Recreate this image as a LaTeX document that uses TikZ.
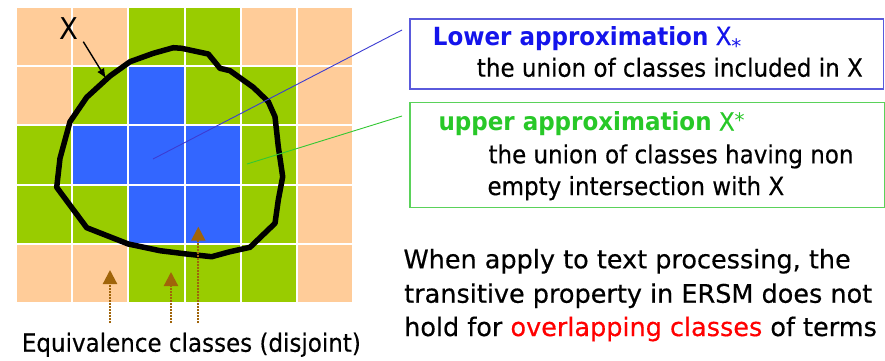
\documentclass[tikz,border=0pt]{standalone}
\usepackage{fontspec}
\usetikzlibrary{arrows.meta}
\newfontfamily\tah[FakeStretch=0.92, UprightFeatures={FakeBold=0.35}]{DejaVu Sans}
\newfontfamily\verd[UprightFeatures={FakeBold=0.45}]{DejaVu Sans}
\newfontfamily\starfont{DejaVu Sans}
\newfontfamily\labfont[FakeStretch=0.92]{DejaVu Sans}
\definecolor{peach}{RGB}{255,204,153}
\definecolor{lime}{RGB}{153,204,0}
\definecolor{cellblue}{RGB}{51,102,255}
\definecolor{lowblue}{RGB}{20,20,235}
\definecolor{upgreen}{RGB}{40,200,40}
\definecolor{lowedge}{RGB}{90,90,220}
\definecolor{upedge}{RGB}{90,210,90}
\definecolor{ochre}{RGB}{160,100,10}
\definecolor{pointblue}{RGB}{60,60,210}
\definecolor{pointgreen}{RGB}{50,200,50}
\begin{document}
\begin{tikzpicture}[x=1pt,y=-1pt,
  txt/.style={inner sep=0pt, anchor=base west, font=\tah\fontsize{25}{25}\selectfont},
  bigtxt/.style={inner sep=0pt, anchor=base west, font=\verd\fontsize{25.5}{25.5}\selectfont},
  boxframe/.style={draw, line width=1.2pt, inner sep=0pt, anchor=north west},
  classarrow/.style={draw=ochre, line width=2.2pt, dash pattern=on 1.6pt off 1.4pt,
     -{Triangle[length=14pt,width=14pt,fill=ochre]}},
  setline/.style={line width=5.5pt, line join=round, line cap=round}]
\useasboundingbox (0,0) rectangle (885,360);
\fill[white] (0,0) rectangle (885,360);
% grid of equivalence classes
\foreach \c/\r/\k in {0/0/peach,1/0/peach,2/0/lime,3/0/lime,4/0/peach,5/0/peach,
  0/1/peach,1/1/lime,2/1/cellblue,3/1/lime,4/1/lime,5/1/peach,
  0/2/lime,1/2/cellblue,2/2/cellblue,3/2/cellblue,4/2/lime,5/2/peach,
  0/3/lime,1/3/lime,2/3/cellblue,3/3/cellblue,4/3/lime,5/3/peach,
  0/4/peach,1/4/peach,2/4/lime,3/4/lime,4/4/lime,5/4/peach}
  \fill[\k] ({16+56.2*\c+1},{6.7+59.3*\r+1}) rectangle ({16+56.2*(\c+1)-1},{6.7+59.3*(\r+1)-1});
% the set X
\draw[setline] (173.3,47.7) -- (181.7,48.3) -- (208.3,54) -- (220,68.3) -- (230,70.7)
  -- (253.3,87.3) -- (268.3,101.7) -- (275,116.7) -- (278.3,146.7) -- (282.7,176.7)
  -- (278.3,200) -- (275,223.3) -- (250,247.3) -- (230,251.7) -- (211.7,256.7)
  -- (186.7,254) -- (160,250.7) -- (128.3,244) -- (86.7,227.7) -- (56.7,187.3)
  -- (60,158.3) -- (70,121.7) -- (86.7,97.3) -- (110,76) -- (130,61.7) -- (153.3,53.3) -- cycle;
% X label and arrow
\node (xlab) [inner sep=0pt, font=\labfont\fontsize{30}{30}\selectfont] at (68.5,29) {X};
\coordinate (xfrom) at (83.3,41.7);
\coordinate (xtip) at (106,78.5);
\draw[line width=1.4pt, -{Latex[length=10pt,width=8pt]}] (xfrom) -- (xtip);
% pointer lines
\coordinate (lowpt) at (153,159);
\coordinate (lowend) at (402,30);
\coordinate (uppt) at (247,164);
\coordinate (upend) at (402,116);
\draw[pointblue, line width=0.9pt] (lowpt) -- (lowend);
\draw[pointgreen, line width=0.9pt] (uppt) -- (upend);
% boxes
\node (lowbox) [boxframe, draw=lowedge, minimum width=473.7pt, minimum height=70pt] at (409.3,18.3) {};
\node (upbox) [boxframe, draw=upedge, minimum width=474.7pt, minimum height=105pt] at (409.3,101.7) {};
\node (lowtitle) [txt, text=lowblue] at (432.7,45) {\textbf{Lower approximation} X\raisebox{-8.4pt}{\starfont\fontsize{20}{20}\selectfont *}};
\node (lowdesc) [txt] at (476.7,76.7) {the union of classes included in X};
\node (uptitle) [txt, text=upgreen] at (438.3,130.5) {\textbf{upper approximation} X\raisebox{3pt}{\starfont\fontsize{20}{20}\selectfont *}};
\node (updesc1) [txt] at (488.3,163.3) {the union of classes having non};
\node (updesc2) [txt] at (487.3,195) {empty intersection with X};
% equivalence classes
\coordinate (a1) at (110,323);
\coordinate (a1t) at (110,270);
\coordinate (a2) at (171,323);
\coordinate (a2t) at (171,272);
\coordinate (a3) at (198.3,323);
\coordinate (a3t) at (198.3,226.7);
\draw[classarrow] (a1) -- (a1t);
\draw[classarrow] (a2) -- (a2t);
\draw[classarrow] (a3) -- (a3t);
\node (eqlab) [txt] at (21.7,351.7) {Equivalence classes (disjoint)};
% remark
\node (rem1) [bigtxt] at (403.3,268.3) {When apply to text processing, the};
\node (rem2) [bigtxt] at (404,302.7) {transitive property in ERSM does not};
\node (rem3) [bigtxt] at (404,336) {hold for \textcolor{red}{overlapping classes} of terms};
\end{tikzpicture}
\end{document}
